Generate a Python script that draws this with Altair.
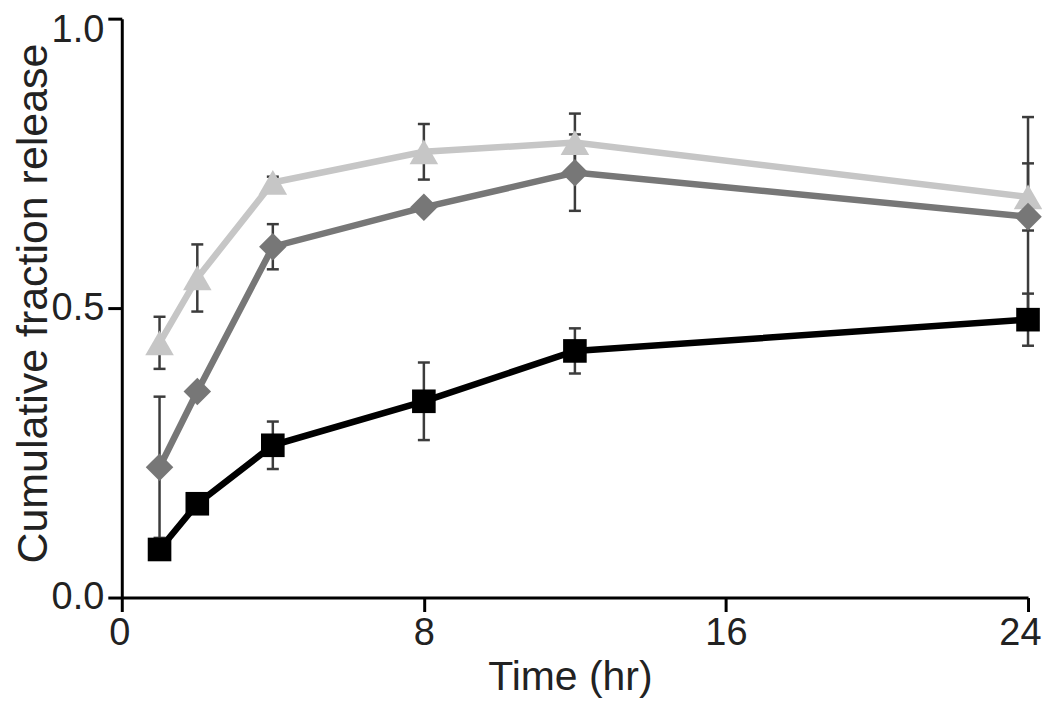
import altair as alt
import pandas as pd

times = [1, 2, 4, 8, 12, 24]
series_names = ["Triangle", "Diamond", "Square"]
triangle_vals = [0.440, 0.552, 0.717, 0.770, 0.786, 0.692]
triangle_err = [0.045, 0.058, 0.010, 0.048, 0.050, 0.058]
diamond_vals = [0.225, 0.356, 0.606, 0.674, 0.734, 0.658]
diamond_err = [0.122, 0.010, 0.039, 0.010, 0.066, 0.172]
square_vals = [0.083, 0.162, 0.263, 0.339, 0.426, 0.480]
square_err = [0.010, 0.010, 0.041, 0.067, 0.039, 0.045]
x_ticks = [0, 8, 16, 24]
y_ticks = [0.0, 0.5, 1.0]

colors = {"Triangle": "#c6c6c6", "Diamond": "#777777", "Square": "#000000"}
shapes = {"Triangle": "triangle-up", "Diamond": "diamond", "Square": "square"}
sizes = {"Triangle": 820, "Diamond": 760, "Square": 560}

rows = []
for name, vals, errs in [("Triangle", triangle_vals, triangle_err),
                         ("Diamond", diamond_vals, diamond_err),
                         ("Square", square_vals, square_err)]:
    for t, v, e in zip(times, vals, errs):
        rows.append({"series": name, "t": t, "y": v, "lo": v - e, "hi": v + e})
df = pd.DataFrame(rows)

FONT = "Liberation Sans"
xscale = alt.Scale(domain=[0, 24], nice=False, zero=False)
yscale = alt.Scale(domain=[0, 1], nice=False)

xaxis = alt.Axis(values=x_ticks, format="d", title="Time (hr)", labelFlush=True,
                 labelFlushOffset=13, labelOverlap=False, labelPadding=3,
                 titleX=449, titleAlign="center", titleY=92,
                 titleBaseline="alphabetic", titleFontSize=41)
yaxis = alt.Axis(values=y_ticks, format=".1f", title="Cumulative fraction release",
                 labelFlush=False, labelOverlap=False, labelPadding=4,
                 labelOffset={"condition": {"test": "datum.value == 1", "value": 12}, "value": 0},
                 titleAngle=270, titleX=-75, titleY=285, titleAlign="center",
                 titleBaseline="alphabetic", titleFontSize=43)

base = alt.Chart(df)
X = alt.X("t:Q", scale=xscale, axis=xaxis)
Y = alt.Y("y:Q", scale=yscale, axis=yaxis)

err_color = "#3c3c3c"
err_line = base.mark_rule(color=err_color, strokeWidth=2.5).encode(
    x=X, y=alt.Y("lo:Q", scale=yscale, axis=yaxis), y2="hi:Q")
cap_hi = base.mark_rule(color=err_color, strokeWidth=2.5, xOffset=-6, x2Offset=6).encode(
    x=X, x2="t:Q", y=alt.Y("hi:Q", scale=yscale, axis=yaxis))
cap_lo = base.mark_rule(color=err_color, strokeWidth=2.5, xOffset=-6, x2Offset=6).encode(
    x=X, x2="t:Q", y=alt.Y("lo:Q", scale=yscale, axis=yaxis))

layers = [err_line, cap_hi, cap_lo]
for name in series_names:
    sub = base.transform_filter(alt.datum.series == name)
    layers.append(sub.mark_line(color=colors[name], strokeWidth=6.5).encode(x=X, y=Y))
    layers.append(sub.mark_point(filled=True, opacity=1, shape=shapes[name],
                                 size=sizes[name], color=colors[name]).encode(x=X, y=Y))

chart = alt.layer(*layers).properties(
    width=908, height=580,
    autosize=alt.AutoSizeParams(type="none"),
    padding={"left": 114, "top": 10, "right": 14, "bottom": 105},
).configure_view(stroke=None).configure_axis(
    grid=False, domainColor="#000000", domainWidth=3, tickColor="#000000",
    tickWidth=3, tickSize=14, labelFont=FONT, labelFontSize=38, labelColor="#222222",
    titleFont=FONT, titleFontWeight="normal", titleColor="#222222",
)

chart.save("out.html", embed_options={"renderer": "svg", "actions": False})
